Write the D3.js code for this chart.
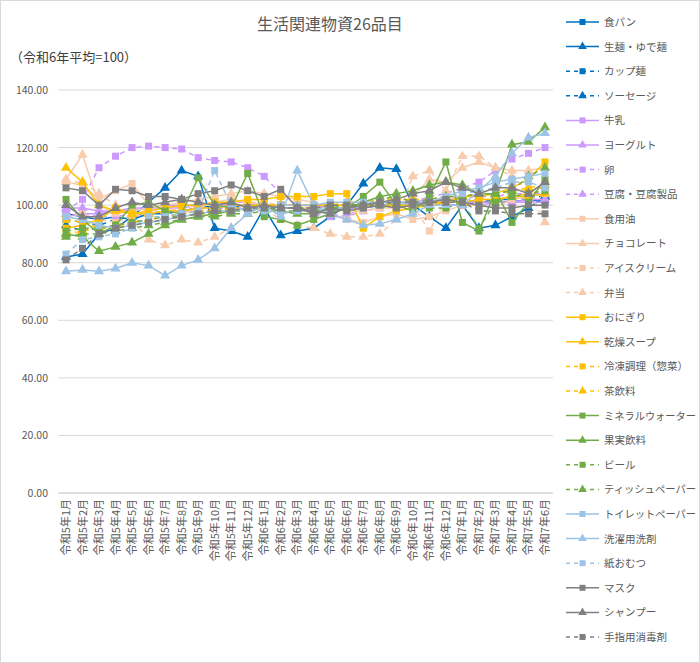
<!DOCTYPE html>
<html><head><meta charset="utf-8">
<script src="https://cdn.jsdelivr.net/npm/d3@7/dist/d3.min.js"></script>
<style>body{margin:0;background:#fff;font-family:"Noto Sans CJK JP","Noto Sans",sans-serif;}</style>
</head><body><div id="chart"></div>
<script>
const months = [];
for (const [y, n] of [[5, 12], [6, 12], [7, 6]]) for (let m = 1; m <= n; m++) months.push(`令和${y}年${m}月`);

const names = ["食パン","生麺・ゆで麺","カップ麺","ソーセージ","牛乳","ヨーグルト","卵","豆腐・豆腐製品","食用油","チョコレート","アイスクリーム","弁当","おにぎり","乾燥スープ","冷凍調理（惣菜）","茶飲料","ミネラルウォーター","果実飲料","ビール","ティッシュペーパー","トイレットペーパー","洗濯用洗剤","紙おむつ","マスク","シャンプー","手指用消毒剤"];
const colors = ["#0070C0","#0070C0","#0070C0","#0070C0","#CC99FF","#CC99FF","#CC99FF","#CC99FF","#F8CBAD","#F8CBAD","#F8CBAD","#F8CBAD","#FFC000","#FFC000","#FFC000","#FFC000","#70AD47","#70AD47","#70AD47","#70AD47","#9DC3E6","#9DC3E6","#9DC3E6","#808080","#808080","#808080"];
const markers = ["s","t","s","t","s","t","s","t","s","t","s","t","s","t","s","t","s","t","s","t","s","t","s","s","t","s"];
const dashed = [0,0,1,1,0,0,1,1,0,0,1,1,0,0,1,1,0,0,1,1,0,0,1,0,0,1];

const values = [
  [97,96,95,96,95,97,97,98,99,100,100,100,100,100,100,100,99,99,99,100,100,100,100,101,101,101,101,101,102,101],
  [82,83,90,92,96,101,106,112,110,92,91,89,99,89.5,91,92,96,100,107.5,113,112.5,100,96,92,100,92,93,96,99,103],
  [95,94,93,95,96,97,98,98,99,99,99,100,100,100,100,100,100,100,100,100,100,100,100,100,100,101,101,101,102,102],
  [93,91,92,93,94,95,96,97,98,98,99,99,100,100,100,100,100,100,100,100,100,101,101,101,101,101,102,102,103,103],
  [96,97,97,98,98,99,99,99,100,100,100,100,100,100,100,100,100,100,100,100,100,100,100,100,100,100,101,101,101,101],
  [99,99,98,98,99,99,100,100,100,100,101,101,100,100,100,100,99,99,99,100,100,100,100,101,101,101,101,101,102,102],
  [98,102,113,117,120,120.5,120,119.5,116.5,115.5,115,113,110,104,100,97,96,96,98,99,100,101,103,104,106,108,112,116,118,120],
  [97,97,96,96,97,97,98,98,99,99,99,99,100,100,100,100,97,96,100,101,101,101,102,102,103,103,103,104,104,104],
  [108,107,102,105,107.5,100,99,97,99,101,102,101,100,100,100,98,97,95,94,96,97,95,96,98,100,100,99,102,103,104],
  [109,117.5,100,97,98,99,100,101,102,103,104,105,104,103,102,101,99,98,98,99,99,103,109,108,113,115,113,112,112,113],
  [96,97,95,94,96,97,98,99,100,100,101,101,101,100,100,99,99,100,100,101,100,100,91,102,103,104,104,105,105,106],
  [108,108,104,100,95,88,86,88,87,89,92,97,99,95,93,92,90,89,89,90,95,110,112,105,117,117,113,110,105,94],
  [92,93,95,99,97,98,99,100,100,101,101,102,102,103,103,103,104,104,92,96,98,99,100,101,103,103,104,106,109,115],
  [113,108,100,98,97,97,98,98,99,99,100,100,100,100,100,100,100,100,100,100,100,100,101,101,101,102,102,103,103,104],
  [95,94,92,92,94,95,96,97,98,98,99,99,100,100,100,100,100,100,100,100,100,100,101,101,101,102,102,103,104,107],
  [90,91,92,93,94,95,96,96,97,97,98,99,100,100,100,100,100,101,101,102,102,102,102,103,103,104,104,105,106,107],
  [102,95,90,93,100,101,98,97,109.5,100,99,111,96,95,93,95,97,99,103,108,100,98,103,115,94,91,105,94,101,109],
  [90,89,84,85.5,87,90,93,95,96,97,98,99,99,98,97,97,98,99,101,103,104,105,107,108,107,104,104,121,122,127],
  [91,92,92,93,94,95,96,96,97,97,98,98,99,99,99,99,99,100,100,102,103,101,99,99,101,92,101,103,104,105],
  [89,90,90,91,92,93,94,95,96,96,97,97,98,98,98,98,99,99,100,100,101,101,102,103,103,104,104,105,110,113],
  [96,95,93,92,93,94,95,96,97,98,98,99,99,100,100,100,101,101,101,101,101,101,101,103,105,106,108,109,110,111],
  [77,77.5,77,78,80,79,75.5,79,81,85,92,97,100,96,112,100,97,95,93,93.5,95,97,100,100,100,105,110,118,123.5,125],
  [83,88,89,90,92,96,96,97,98,112,100,98,98,97,98,98,99,99,99,100,101,100,101,102,104,105,106,108,108,106],
  [106,105,100,105.5,105,103,103,102,104,105,107,105,103,105.5,99,97,99,98,99,100,99,100,101,102,101,100,99,99,100,100],
  [100,96,96,99,101,100,101,102,101,100,101,99,100,99,99,98,97,99,100,101,102,104,105,108,106,104,106,106,104,108],
  [81,85,90,92,93,94,95,96,97,98,98,99,99,99,99,99,100,100,100,101,101,101,101,101,101,98,98,97,97,97]
];
const yTicks = [0,20,40,60,80,100,120,140];

const W = 700, H = 663;
const svg = d3.select("#chart").append("svg").attr("width", W).attr("height", H);
svg.append("rect").attr("x", 0.5).attr("y", 0.5).attr("width", W - 1).attr("height", H - 1).attr("fill", "#fff").attr("stroke", "#d9d9d9");

const x = d3.scalePoint().domain(months).range([66, 545]);
const y = d3.scaleLinear().domain([0, 140]).range([493, 90]);

svg.append("text").attr("x", 330).attr("y", 30).attr("text-anchor", "middle")
  .style("font-size", "16px").style("fill", "#595959").text("生活関連物資26品目");
svg.append("text").attr("x", 10).attr("y", 62)
  .style("font-size", "13px").style("fill", "#404040").text("（令和6年平均=100）");

const grid = svg.append("g");
grid.selectAll("line").data(yTicks).join("line")
  .attr("x1", 58).attr("x2", 553).attr("y1", d => y(d)).attr("y2", d => y(d))
  .attr("stroke", d => d === 0 ? "#bfbfbf" : "#d9d9d9");
grid.selectAll("text").data(yTicks).join("text")
  .attr("x", 48).attr("y", d => y(d) + 4).attr("text-anchor", "end")
  .style("font-size", "10.5px").style("fill", "#595959").text(d3.format(".2f"));

svg.append("g").selectAll("text").data(months).join("text")
  .attr("transform", d => `translate(${x(d) + 4},499) rotate(-90)`)
  .attr("text-anchor", "end")
  .style("font-size", "11px").style("fill", "#595959").text(d => d);

function marker(g, type, col, s) {
  if (type === "s") g.append("rect").attr("x", -s / 2).attr("y", -s / 2).attr("width", s).attr("height", s).attr("fill", col);
  else g.append("path").attr("d", d3.symbol(d3.symbolTriangle, s * s * 0.9)()).attr("fill", col);
}

const line = d3.line().x((d, i) => x(months[i])).y(d => y(d));
const series = svg.append("g");
names.forEach((n, k) => {
  const g = series.append("g");
  g.append("path").attr("d", line(values[k])).attr("fill", "none")
    .attr("stroke", colors[k]).attr("stroke-width", 1.5)
    .attr("stroke-dasharray", dashed[k] ? "5,4" : null);
  values[k].forEach((v, i) => {
    marker(g.append("g").attr("transform", `translate(${x(months[i])},${y(v)})`), markers[k], colors[k], 7);
  });
});

const legend = svg.append("g");
names.forEach((n, k) => {
  const ly = 22 + k * 24.6;
  const g = legend.append("g").attr("transform", `translate(566,${ly})`);
  g.append("line").attr("x1", 0).attr("x2", 33).attr("stroke", colors[k]).attr("stroke-width", 1.5)
    .attr("stroke-dasharray", dashed[k] ? "4,4" : null);
  marker(g.append("g").attr("transform", "translate(16.5,0)"), markers[k], colors[k], 6);
  const t = g.append("text").attr("x", 38).attr("y", 4).style("font-size", "10.5px").style("fill", "#595959").text(n);
  if (n.length > 8) t.attr("textLength", 92).attr("lengthAdjust", "spacingAndGlyphs");
});
</script></body></html>
